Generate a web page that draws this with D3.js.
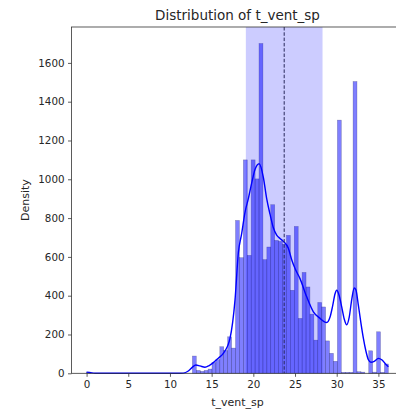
<!DOCTYPE html>
<html>
<head>
<meta charset="utf-8">
<script src="https://cdn.jsdelivr.net/npm/d3@7"></script>
<style>
  body { margin: 0; background: #fff; }
  svg { display: block; font-family: "DejaVu Sans", sans-serif; }
</style>
</head>
<body>
<svg id="chart" width="396" height="416"></svg>
<script>
// histogram bins (count per bin), bins start at 0 with fixed width
var binStart = 0;
var binWidth = 0.47;
var counts = [
	6, 0, 0, 0, 0, 0, 0, 0, 0, 0,
	0, 0, 0, 0, 0, 0, 0, 0, 0, 0,
	0, 0, 0, 0, 0, 0, 0, 89, 15, 10,
	15, 22, 55, 70, 137, 118, 188, 130, 788, 596,
	1100, 608, 1100, 1002, 1700, 586, 651, 869, 685, 680,
	665, 711, 428, 757, 283, 520, 445, 305, 171, 365,
	342, 167, 103, 62, 1305, 5, 5, 5, 1504, 8,
	6, 0, 116, 6, 214, 5, 48
];

// kde curve (x value, height in counts)
var kdeX = [0, 0.5, 1, 2, 11, 11.6, 12.2, 12.7, 13.1, 13.6, 14.2, 14.7, 15.2, 15.8, 16.4, 17.2, 17.8, 18.2, 18.6, 19.0,
	19.4, 19.8, 20.2, 20.7, 21.2, 21.6, 22.0, 22.4, 22.8, 23.2, 23.6, 24.2, 24.6, 25.0, 25.6, 26.4, 27.2, 28.0, 28.8, 29.2,
	29.5, 29.8, 30.0, 30.3, 30.6, 30.9, 31.2, 31.5, 31.8, 32.1, 32.3, 32.6, 32.9, 33.2, 33.5, 33.8, 34.1, 34.5, 35.0, 35.4,
	35.8, 36.2];
var kdeY = [6, 3, 0.5, 0, 0, 1, 12, 32, 43, 38, 31, 40, 55, 78, 103, 180, 377, 620, 720, 830,
	900, 980, 1050, 1080, 1010, 900, 820, 750, 712, 695, 680, 645, 585, 540, 488, 394, 317, 283, 262, 290,
	345, 410, 428, 400, 342, 280, 250, 290, 380, 440, 430, 350, 260, 180, 115, 70, 57, 62, 77, 70,
	51, 34];

var meanValue = 23.7;
var spanLow = 19.1, spanHigh = 28.3;

var xTicks = [0, 5, 10, 15, 20, 25, 30, 35];
var yTicks = [0, 200, 400, 600, 800, 1000, 1200, 1400, 1600];

var svg = d3.select("#chart"),
	plotLeft = 71.5, plotRight = 403.5, plotTop = 27, plotBottom = 373.3;

var x = d3.scaleLinear().domain([-1.81, 38.01]).range([plotLeft, plotRight]);
var y = d3.scaleLinear().domain([0, 1785]).range([plotBottom, plotTop]);

var plot = svg.append("g");

// bars
plot.append("g")
	.selectAll("rect")
	.data(counts)
	.enter().append("rect")
	.attr("x", function (d, i) { return x(binStart + i * binWidth); })
	.attr("width", function (d, i) { return x(binStart + (i + 1) * binWidth) - x(binStart + i * binWidth); })
	.attr("y", function (d) { return y(d); })
	.attr("height", function (d) { return y(0) - y(d); })
	.attr("fill", "rgba(0,0,255,0.5)")
	.attr("stroke", "rgba(40,40,90,0.45)")
	.attr("stroke-width", 0.5);

// kde
var kde = kdeX.map(function (v, i) { return [v, kdeY[i]]; });
plot.append("path")
	.datum(kde)
	.attr("fill", "none")
	.attr("stroke", "#0000ff")
	.attr("stroke-width", 1.4)
	.attr("d", d3.line()
		.x(function (d) { return x(d[0]); })
		.y(function (d) { return y(d[1]); })
		.curve(d3.curveMonotoneX));

// mean line and std band
plot.append("line")
	.attr("x1", x(meanValue)).attr("x2", x(meanValue))
	.attr("y1", plotTop).attr("y2", plotBottom)
	.attr("stroke", "#333")
	.attr("stroke-width", 1)
	.attr("stroke-dasharray", "3.5,1.8");

plot.append("rect")
	.attr("x", x(spanLow))
	.attr("width", x(spanHigh) - x(spanLow))
	.attr("y", plotTop)
	.attr("height", plotBottom - plotTop)
	.attr("fill", "rgba(0,0,255,0.2)");

// axes
var xAxis = svg.append("g")
	.attr("transform", "translate(0," + plotBottom + ")")
	.call(d3.axisBottom(x).tickValues(xTicks).tickSize(3.5).tickPadding(3.5));
var yAxis = svg.append("g")
	.attr("transform", "translate(" + plotLeft + ",0)")
	.call(d3.axisLeft(y).tickValues(yTicks).tickFormat(d3.format("d")).tickSize(3.5).tickPadding(3.5));

[xAxis, yAxis].forEach(function (a) {
	a.select(".domain").remove();
	a.selectAll("line").attr("stroke", "#333").attr("stroke-width", 0.8);
	a.selectAll("text").attr("fill", "#262626").attr("font-size", 10.3)
		.attr("font-family", "DejaVu Sans, sans-serif");
});

// frame
svg.append("rect")
	.attr("x", plotLeft).attr("y", plotTop)
	.attr("width", plotRight - plotLeft).attr("height", plotBottom - plotTop)
	.attr("fill", "none")
	.attr("stroke", "#333")
	.attr("stroke-width", 0.8);

// labels
svg.append("text")
	.attr("x", (plotLeft + plotRight) / 2).attr("y", 20)
	.attr("text-anchor", "middle")
	.attr("font-size", 13.5)
	.attr("fill", "#262626")
	.text("Distribution of t_vent_sp");

svg.append("text")
	.attr("x", (plotLeft + plotRight) / 2).attr("y", 405.5)
	.attr("text-anchor", "middle")
	.attr("font-size", 11)
	.attr("fill", "#262626")
	.text("t_vent_sp");

svg.append("text")
	.attr("transform", "translate(29," + (plotTop + plotBottom) / 2 + ") rotate(-90)")
	.attr("text-anchor", "middle")
	.attr("font-size", 11)
	.attr("fill", "#262626")
	.text("Density");
</script>
</body>
</html>
